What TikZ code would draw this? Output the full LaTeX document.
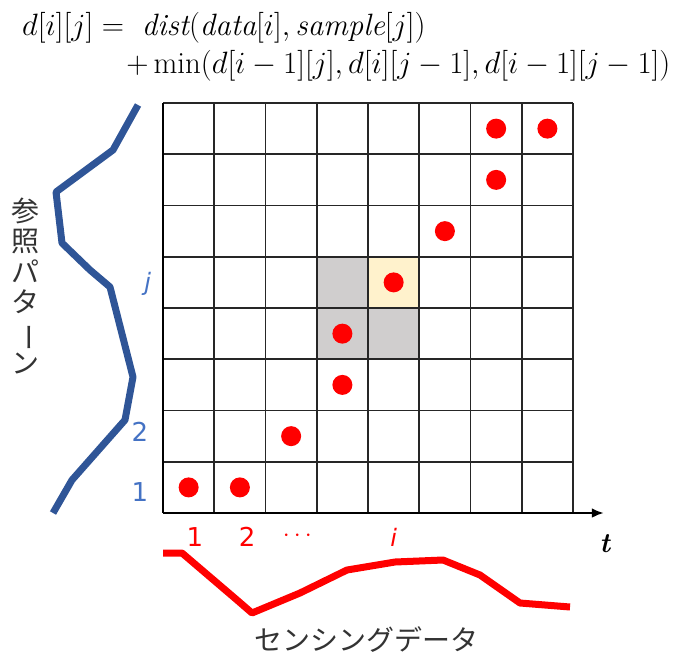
\documentclass[tikz,border=0pt]{standalone}
\usepackage{fontspec}
\usepackage{graphicx}
\newfontfamily\jpfont{Noto Sans CJK JP}
\newfontfamily\lblfont{DejaVu Sans}
\usetikzlibrary{arrows.meta}

\definecolor{patblue}{HTML}{2F5597}
\definecolor{lblblue}{HTML}{4472C4}
\definecolor{cellgray}{HTML}{D0CECE}
\definecolor{cellcream}{HTML}{FFF2CC}
\definecolor{txtgray}{HTML}{333333}

\tikzset{
  gridline/.style={line width=1.6pt, black!85},
  curve/.style={line width=7pt, line join=round},
  rowlabel/.style={text=lblblue, font=\lblfont\fontsize{26}{28}\selectfont},
  collabel/.style={text=red, font=\lblfont\fontsize{26}{28}\selectfont},
  jplabel/.style={text=txtgray, font=\jpfont\fontsize{28}{30}\selectfont},
  formula/.style={anchor=base west, inner sep=0pt, scale=1.24, transform shape,
    font=\fontsize{24.88}{28}\selectfont},
}

\begin{document}
\begin{tikzpicture}[x=1pt, y=-1pt]
  \useasboundingbox (0,0) rectangle (679,661);

  % Formula
  \node[formula] (line1) at (22,36)
    {$d[i][j] =\ \mathit{dist}(\mathit{data}[i],\mathit{sample}[j])$};
  \node[formula] (line2) at (126,74)
    {$+\min(d[i-1][j],d[i][j-1],d[i-1][j-1])$};

  % Grid (cell = 51.25px)
  \begin{scope}[shift={(163,513)}, x=51.25pt, y=51.25pt]
    \fill[cellgray] (3,3) rectangle (4,5);
    \fill[cellgray] (4,3) rectangle (5,4);
    \fill[cellcream] (4,4) rectangle (5,5);
    \foreach \k in {1,...,8} {
      \draw[gridline] (\k,0) -- (\k,8);
      \draw[gridline] (0,\k) -- (8,\k);
    }
    \coordinate (origin) at (0,0);
    \coordinate (top) at (0,8);
    \coordinate (tend) at (8.6,0);
    \draw[line width=2.6pt] (top) -- (origin);
    \draw[line width=2.6pt, -{Latex[length=12pt, width=10pt]}] (origin) -- (tend);

    % Warping path
    \foreach \c/\r in {1/1, 2/1, 3/2, 4/3, 4/4, 5/5, 6/6, 7/7, 7/8, 8/8}
      \fill[red] (\c-0.5,\r-0.5) circle (10pt);

    % Axis labels
    \node[rowlabel] (r1) at (-0.45,0.4) {1};
    \node[rowlabel] (r2) at (-0.45,1.58) {2};
    \node[rowlabel, font=\lblfont\itshape\fontsize{24}{28}\selectfont] (rj) at (-0.3,4.47) {j};
    \node[collabel] (c1) at (0.62,-0.47) {1};
    \node[collabel] (c2) at (1.64,-0.47) {2};
    \node[collabel] (cdots) at (2.62,-0.45) {$\cdots$};
    \node[collabel, font=\lblfont\itshape\fontsize{24}{28}\selectfont] (ci) at (4.5,-0.47) {i};
    \node[font=\bfseries\itshape\fontsize{28}{30}\selectfont] (tlbl) at (8.62,-0.6) {t};
  \end{scope}

  % Reference pattern
  \draw[curve, patblue] (138,105) -- (113,150) -- (56,192) -- (62,243) -- (90,270)
    -- (110,287) -- (133,377) -- (125,420) -- (72,480) -- (53,513);
  \node[jplabel, align=center, inner sep=0pt, font=\jpfont\fontsize{28}{30.5}\selectfont]
    (refpat) at (25,286) {参\\照\\パ\\タ\\\rotatebox[origin=c]{-90}{ー}\\ン};

  % Sensing data
  \draw[curve, red] (163,553) -- (182,553) -- (237,600) -- (252,613) -- (300,593)
    -- (347,570) -- (395,562) -- (443,560) -- (480,575) -- (520,603) -- (570,607);
  \node[jplabel] (sensing) at (366,640) {センシングデータ};
\end{tikzpicture}
\end{document}
